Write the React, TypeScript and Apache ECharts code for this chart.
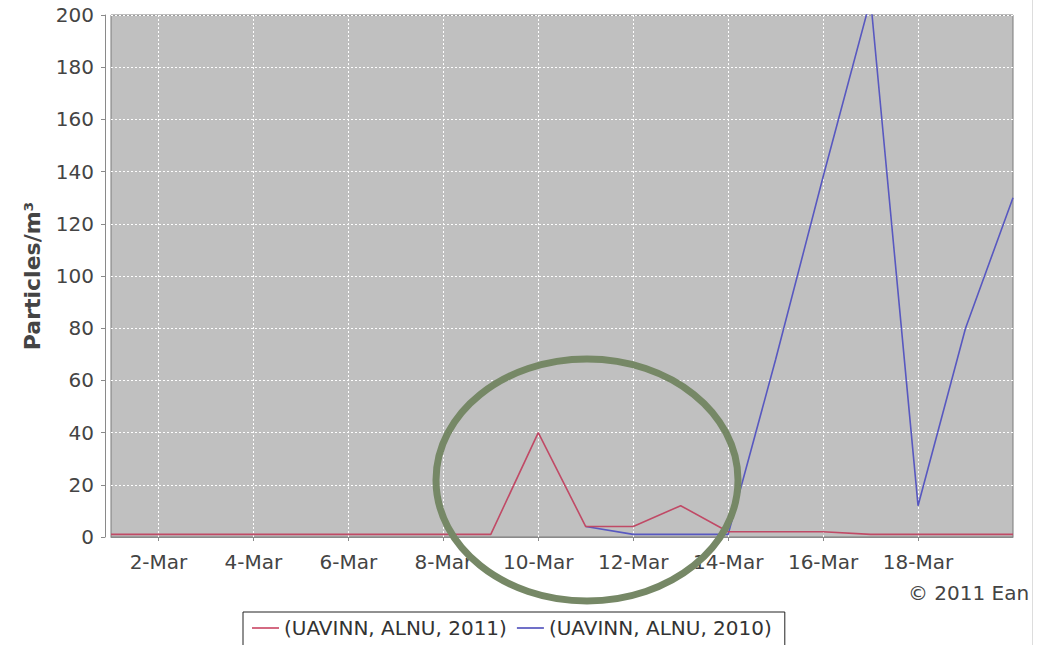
import React, { useEffect, useRef } from "react";
import * as echarts from "echarts";

const days: string[] = [
  "1-Mar", "2-Mar", "3-Mar", "4-Mar", "5-Mar", "6-Mar", "7-Mar", "8-Mar", "9-Mar", "10-Mar",
  "11-Mar", "12-Mar", "13-Mar", "14-Mar", "15-Mar", "16-Mar", "17-Mar", "18-Mar", "19-Mar", "20-Mar",
];
const series2011: (number | null)[] = [1, 1, 1, 1, 1, 1, 1, 1, 1, 40, 4, 4, 12, 2, 2, 2, 1, 1, 1, 1];
const series2010: (number | null)[] = [
  null, null, null, null, null, null, null, null, null, null,
  4, 1, 1, 1, 68, 138, 206, 12, 80, 130,
];
const name2011 = "(UAVINN, ALNU, 2011)";
const name2010 = "(UAVINN, ALNU, 2010)";
const yTitle = "Particles/m³";
const copyright = "© 2011 Ean";

const showIdx = (i: number) => i % 2 === 1 && i < 19;

export default function App() {
  const ref = useRef<HTMLDivElement>(null);
  useEffect(() => {
    if (!ref.current) return;
    const chart = echarts.init(ref.current, undefined, { renderer: "svg" });
    const font = "DejaVu Sans";
    chart.setOption({
      animation: false,
      backgroundColor: "#ffffff",
      textStyle: { fontFamily: font },
      grid: {
        left: 111,
        top: 15,
        right: 28,
        bottom: 108,
        show: true,
        backgroundColor: "#c0c0c0",
        borderColor: "#7a7a7a",
        borderWidth: 1,
      },
      xAxis: {
        type: "category",
        data: days,
        boundaryGap: false,
        offset: 6,
        axisLine: { show: true, lineStyle: { color: "#8a8a8a", width: 1 } },
        axisTick: { show: true, length: 4, interval: (i: number) => showIdx(i), lineStyle: { color: "#8a8a8a" } },
        axisLabel: {
          interval: (i: number) => showIdx(i),
          color: "#444",
          fontSize: 20,
          fontFamily: font,
          margin: 9,
        },
        splitLine: {
          show: true,
          interval: (i: number) => showIdx(i),
          lineStyle: { color: "#ffffff", type: [2, 2], width: 1 },
        },
      },
      yAxis: {
        type: "value",
        min: 0,
        max: 200,
        interval: 20,
        offset: 6,
        name: yTitle,
        nameLocation: "middle",
        nameGap: 62,
        nameTextStyle: { fontSize: 22, fontWeight: "bold", color: "#444", fontFamily: font },
        axisLine: { show: true, lineStyle: { color: "#8a8a8a", width: 1 } },
        axisTick: { show: true, length: 4, lineStyle: { color: "#8a8a8a" } },
        axisLabel: { color: "#444", fontSize: 20, fontFamily: font, margin: 11 },
        splitLine: { show: true, lineStyle: { color: "#ffffff", type: [2, 2], width: 1 } },
      },
      legend: {
        left: 243,
        top: 612,
        orient: "horizontal",
        borderColor: "#222",
        borderWidth: 1,
        padding: [6, 13, 10, 9],
        itemGap: 10,
        itemWidth: 27,
        itemHeight: 2,
        icon: "rect",
        textStyle: { fontSize: 20, color: "#333", fontFamily: font },
        data: [name2011, name2010],
      },
      series: [
        {
          name: name2011,
          type: "line",
          data: series2011,
          symbol: "none",
          color: "#d46a82",
          lineStyle: { width: 1.6, color: "#c04a66" },
          z: 3,
        },
        {
          name: name2010,
          type: "line",
          data: series2010,
          symbol: "none",
          connectNulls: false,
          color: "#7070c8",
          lineStyle: { width: 1.6, color: "#5858c0" },
          z: 2,
        },
      ],
      graphic: [
        {
          type: "ellipse",
          shape: { cx: 587, cy: 480, rx: 151, ry: 121 },
          style: { fill: "none", stroke: "#768866", lineWidth: 7 },
          z: 100,
        },
        {
          type: "text",
          x: 908,
          y: 583,
          style: { text: copyright, fontSize: 20, fill: "#444", fontFamily: font },
          z: 100,
        },
        {
          type: "line",
          shape: { x1: 1032.5, y1: 0, x2: 1032.5, y2: 645 },
          style: { stroke: "#dddddd", lineWidth: 1 },
          z: 100,
        },
      ],
    });
    return () => chart.dispose();
  }, []);
  return (
    <div
      ref={ref}
      style={{ position: "fixed", left: 0, top: 0, width: 1041, height: 645 }}
    />
  );
}
